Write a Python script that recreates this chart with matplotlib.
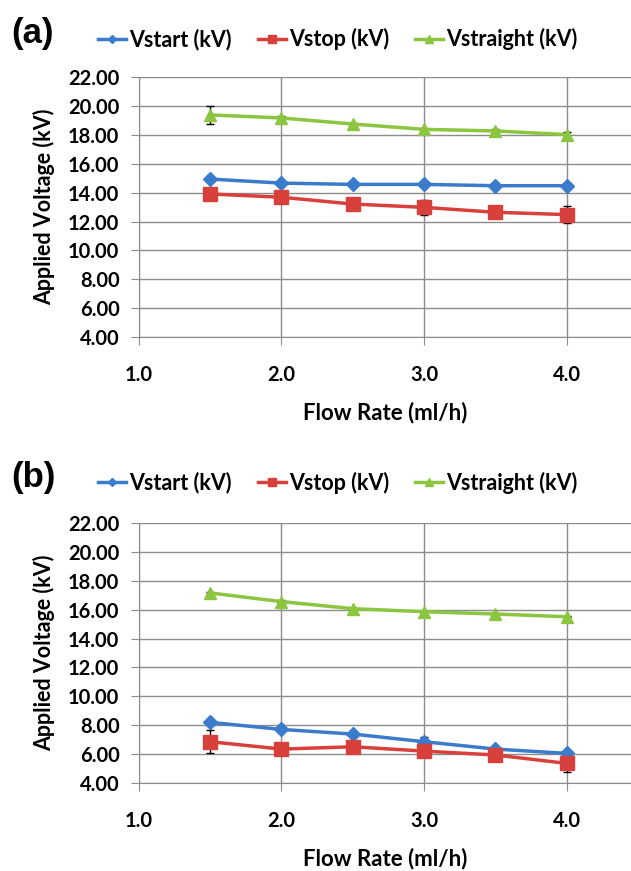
import numpy as np
import matplotlib.pyplot as plt
from matplotlib.lines import Line2D

plt.rcParams['font.family'] = ['Lato', 'DejaVu Sans']
plt.rcParams['font.weight'] = 'bold'

# donnees
flow = [1.5, 2.0, 2.5, 3.0, 3.5, 4.0]

a_start = [14.94, 14.66, 14.57, 14.57, 14.48, 14.48]
a_stop = [13.91, 13.68, 13.21, 12.98, 12.64, 12.48]
a_straight = [19.38, 19.17, 18.75, 18.38, 18.27, 18.02]
a_start_err = [0.05, 0.05, 0.05, 0.05, 0.05, 0.05]
a_stop_err = [0.1, 0.1, 0.1, 0.5, 0.1, 0.6]
a_straight_err = [0.63, 0.15, 0.1, 0.05, 0.15, 0.15]

b_start = [8.20, 7.71, 7.39, 6.86, 6.35, 6.05]
b_stop = [6.86, 6.35, 6.51, 6.21, 5.94, 5.36]
b_straight = [17.16, 16.56, 16.07, 15.86, 15.70, 15.51]
b_start_err = [0.05, 0.05, 0.05, 0.3, 0.05, 0.1]
b_stop_err = [0.8, 0.1, 0.1, 0.1, 0.1, 0.6]
b_straight_err = [0.1, 0.1, 0.05, 0.05, 0.05, 0.05]

yticks = [4, 6, 8, 10, 12, 14, 16, 18, 20, 22]
xticks = [1.0, 2.0, 3.0, 4.0]
noms = ['Vstart (kV)', 'Vstop (kV)', 'Vstraight (kV)']

c_start = '#3b7bcb'
c_stop = '#d8403c'
c_straight = '#8cc540'

fig = plt.figure(figsize=(6.31, 8.71), dpi=100)
ax_a = fig.add_axes([0.220, 0.613, 0.780, 0.2985])
ax_b = fig.add_axes([0.220, 0.101, 0.780, 0.2985])

panels = [
    (ax_a, '(a)', 0.955, a_start, a_stop, a_straight, a_start_err, a_stop_err, a_straight_err),
    (ax_b, '(b)', 0.446, b_start, b_stop, b_straight, b_start_err, b_stop_err, b_straight_err),
]

for ax, lettre, ylet, s, st, sg, es, est, esg in panels:
    ax.errorbar(flow, s, yerr=es, color=c_start, marker='D', ms=7, lw=2.5,
                ecolor='black', elinewidth=1, capsize=3, zorder=3)
    ax.errorbar(flow, st, yerr=est, color=c_stop, marker='s', ms=10, lw=2.5,
                ecolor='black', elinewidth=1, capsize=3, zorder=3)
    ax.errorbar(flow, sg, yerr=esg, color=c_straight, marker='^', ms=9, lw=2.5,
                ecolor='black', elinewidth=1, capsize=3, zorder=3)

    ax.set_xlim(1.0, 4.45)
    ax.set_ylim(4, 22)
    ax.set_xticks(xticks)
    ax.set_xticklabels(['%.1f' % v for v in xticks])
    ax.set_yticks(yticks)
    ax.set_yticklabels(['%.2f' % v for v in yticks])
    ax.grid(True, color='#8c8c8c', lw=1)
    ax.set_axisbelow(True)
    for side in ['top', 'right']:
        ax.spines[side].set_visible(False)
    for side in ['left', 'bottom']:
        ax.spines[side].set_color('#8c8c8c')
    ax.tick_params(axis='x', length=6, color='#8c8c8c', pad=14, labelsize=14.5)
    ax.tick_params(axis='y', length=6, color='#8c8c8c', pad=8, labelsize=14.5)
    ax.set_xlabel('Flow Rate (ml/h)', fontsize=16, fontweight='bold', labelpad=12)
    ax.set_ylabel('Applied Voltage (kV)', fontsize=15.5, fontweight='bold', labelpad=9)

    # legende sans barres d'erreur
    handles = [Line2D([], [], color=c_start, marker='D', ms=4.5, lw=2.5),
               Line2D([], [], color=c_stop, marker='s', ms=6, lw=2.5),
               Line2D([], [], color=c_straight, marker='^', ms=5.5, lw=2.5)]
    fig.legend(handles, noms, loc='center left', bbox_to_anchor=(0.125, ylet),
               ncol=3, frameon=False, fontsize=15.5, handlelength=1.3,
               columnspacing=1.2, handletextpad=0.15)
    fig.text(0.018, ylet + 0.006, lettre, fontsize=25, fontweight='bold', va='center',
             family='Liberation Sans')

plt.savefig('out.png', dpi=100)
